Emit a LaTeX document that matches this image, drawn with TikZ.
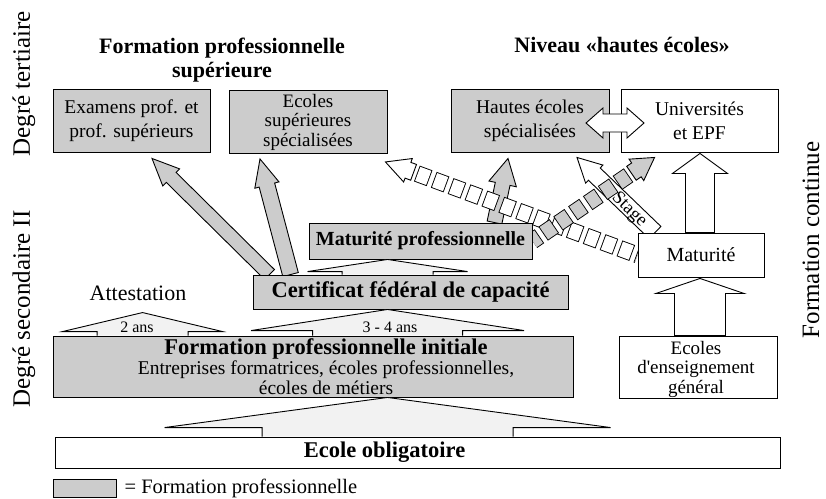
\documentclass[tikz,border=0pt]{standalone}
\usepackage{fontspec}
\setmainfont{Liberation Serif}[Ligatures=TeXOff]
\usepackage{tikz}
\usetikzlibrary{arrows.meta,positioning,calc,backgrounds}
\definecolor{voc}{HTML}{CCCCCC}
\definecolor{tentfill}{HTML}{F2F2F2}
\newcommand{\fs}[2]{\fontsize{#1}{#2}\selectfont}
\tikzset{
  box/.style={draw, line width=0.9pt, fill=white, align=center, inner sep=0pt,
    font=\fs{19.5}{24}},
  vocbox/.style={box, fill=voc},
  fatline/.style={draw, line width=0.9pt, line join=miter},
  tent/.style={draw, line width=0.9pt, fill=tentfill},
  sidelabel/.style={rotate=90, font=\fs{25}{25}},
  heading/.style={align=center, font=\bfseries\fs{22}{24}},
  small/.style={inner sep=0pt, font=\fs{16}{16}}
}
% wide arrow: [style]{tail}{tip}{shaft half}{head half}{head length}
\newcommand{\fatarrow}[6][]{%
  \coordinate (fa-t) at (#2);
  \coordinate (fa-h) at (#3);
  \coordinate (fa-b) at ($(fa-h)!#6!(fa-t)$);
  \draw[fatline,#1] ($(fa-t)!#4!90:(fa-h)$) -- ($(fa-b)!#4!90:(fa-h)$)
    -- ($(fa-b)!#5!90:(fa-h)$) -- (fa-h) -- ($(fa-b)!#5!-90:(fa-h)$)
    -- ($(fa-b)!#4!-90:(fa-h)$) -- ($(fa-t)!#4!-90:(fa-h)$) -- cycle;
}
% chequered arrow: {tail}{tip}{head half}{head length}{fill}{stub}
\newcommand{\segarrow}[6]{%
  \coordinate (sa-t) at (#1);
  \coordinate (sa-h) at (#2);
  \coordinate (sa-s) at ($(sa-h)!#4+#6!(sa-t)$);
  \draw[line width=16.8pt, dash pattern=on 0pt off 3.5pt on 13.5pt off 1pt] (sa-s) -- (sa-t);
  \draw[#5, line width=15pt, dash pattern=on 0pt off 4.4pt on 11.7pt off 1.9pt] (sa-s) -- (sa-t);
  \fatarrow[fill=#5]{sa-s}{sa-h}{8.4pt}{#3}{#4}
}
% flat arrow: {foot}{apex}{shaft half}{wing half}{rise}
\newcommand{\tentarrow}[5]{%
  \draw[tent] ($(#1)+(-#3,0)$) -- ($(#1)+(-#3,-#5)$) -- ($(#1)+(-#4,-#5)$) -- (#2)
    -- ($(#1)+(#4,-#5)$) -- ($(#1)+(#3,-#5)$) -- ($(#1)+(#3,0)$);
}

\begin{document}
\begin{tikzpicture}[x=1pt,y=-1pt]
  \useasboundingbox (0,0) rectangle (826,498);

  % side labels and headings
  \node[sidelabel] (tert) at (24,84) {Degré tertiaire};
  \node[sidelabel] (sec) at (24,309) {Degré secondaire II};
  \node[sidelabel] (cont) at (811,240) {Formation continue};
  \node[heading] (hfps) at (222,60) {Formation professionnelle\\supérieure};
  \node[heading] (hhe) at (622,45) {Niveau «hautes écoles»};

  % tertiary level
  \node[vocbox, minimum width=157pt, minimum height=63pt] (exam) at (131.5,120.5) {Examens prof. et\\prof. supérieurs};
  \node[vocbox, minimum width=158pt, minimum height=63pt, font=\fs{19}{19.5}] (esup) at (308,122) {Ecoles\\supérieures\\spécialisées};
  \node[vocbox, minimum width=158pt, minimum height=63pt] (hes) at (530,120.5) {Hautes écoles\\spécialisées};
  \node[box, minimum width=157pt, minimum height=63pt] (uni) at (699.5,120.5) {Universités\\et EPF};

  % secondary level
  \node[vocbox, minimum width=223pt, minimum height=36pt, font=\bfseries\fs{20}{22}] (matpro) at (420.5,241) {Maturité professionnelle};
  \node[vocbox, minimum width=315pt, minimum height=34pt, font=\bfseries\fs{22.5}{24}] (cfc) at (410.5,292) {Certificat fédéral de capacité};
  \node[vocbox, minimum width=520pt, minimum height=61pt] (fpi) at (313,366.5) {};
  \node[align=center, inner sep=0pt, font=\fs{19.5}{20}] (fpitxt) at ($(fpi.center)+(13,0)$)
    {{\bfseries\fs{22.5}{20}Formation professionnelle initiale}\\Entreprises formatrices, écoles professionnelles,\\écoles de métiers};
  \node[box, minimum width=126pt, minimum height=44pt, font=\fs{20}{22}] (mat) at (701,255) {Maturité};
  \node[box, minimum width=158pt, minimum height=62pt] (ege) at (698,367) {};
  \node[align=center, inner sep=0pt, font=\fs{19}{19.5}] (egetxt) at ($(ege.center)+(-2,2)$) {Ecoles\\d'enseignement\\général};
  \node[box, minimum width=725pt, minimum height=31pt] (ecole) at (417.5,452.5) {};
  \node[inner sep=0pt, font=\bfseries\fs{22.5}{24}] (ecoletxt) at ($(ecole.center)+(-33,0)$) {Ecole obligatoire};
  \node[font=\fs{22}{24}, inner sep=0pt] (att) at (138,293) {Attestation};

  % legend
  \node[vocbox, minimum width=63pt, minimum height=18pt] (legend) at (84.5,488) {};
  \node[right=8pt of legend, inner sep=0pt, font=\fs{20.5}{22}] (legendtxt) {= Formation professionnelle};

  \begin{pgfonlayer}{background}
    \fatarrow[fill=voc]{$(cfc.north west)+(17,0)$}{$(exam.south)+(20.5,6)$}{7pt}{12pt}{27pt}
    \fatarrow[fill=voc]{$(cfc.north west)+(38,0)$}{$(esup.south)+(-48,5)$}{8pt}{12.5pt}{27pt}
    \fatarrow[fill=voc]{$(matpro.north)+(74,0)$}{$(hes.south)+(-22,6)$}{7.5pt}{14pt}{26pt}
    \segarrow{mat.west}{$(esup.south east)+(-2,8)$}{12.5pt}{24pt}{white}{6pt}
    \fatarrow[fill=white]{$(mat.north)+(-46,0)$}{$(hes.south)+(47,5)$}{8.5pt}{12.5pt}{24pt}
    \segarrow{matpro.east}{$(uni.south west)+(34,5)$}{13pt}{22pt}{voc}{6pt}
    \fatarrow[fill=white]{$(mat.north)+(-1,0)$}{$(uni.south)+(0.5,1)$}{14.5pt}{27.5pt}{20pt}
    \fatarrow[fill=white]{$(ege.north)+(2,0)$}{$(mat.south)+(-1,1)$}{25.5pt}{44pt}{15pt}
  \end{pgfonlayer}
  \node[rotate=-44, inner sep=0pt, font=\fs{18.5}{18.5}] (stage) at (629,210) {Stage};

  % double arrow between the hautes écoles
  \coordinate (hd) at ($(hes.east)!0.5!(uni.west)+(0,2.5)$);
  \draw[fatline, fill=white] ($(hd)+(-29,0)$) -- ($(hd)+(-12,-15)$) -- ($(hd)+(-12,-9)$)
    -- ($(hd)+(12,-9)$) -- ($(hd)+(12,-15)$) -- ($(hd)+(29,0)$) -- ($(hd)+(12,15)$)
    -- ($(hd)+(12,9)$) -- ($(hd)+(-12,9)$) -- ($(hd)+(-12,15)$) -- cycle;

  % flat arrows between the levels
  \coordinate (f-att) at ($(fpi.north west)+(90,0)$);
  \coordinate (a-att) at ($(fpi.north west)+(90,-23)$);
  \coordinate (f-cfc) at ($(fpi.north west)+(335,0)$);
  \coordinate (f-mp) at ($(cfc.north west)+(135,0)$);
  \coordinate (f-fpi) at ($(ecole.north west)+(333,0)$);
  \tentarrow{f-att}{a-att}{45.5}{80}{4}
  \tentarrow{f-cfc}{$(cfc.south west)+(135,0)$}{75}{136.5}{5}
  \tentarrow{f-mp}{$(matpro.south west)+(79,0)$}{45.5}{80}{3}
  \tentarrow{f-fpi}{$(fpi.south west)+(335,0)$}{125.5}{223}{9}
  \node[small] (deux) at (137,327) {2 ans};
  \node[small] (trois) at (390,327) {3 - 4 ans};
\end{tikzpicture}
\end{document}
